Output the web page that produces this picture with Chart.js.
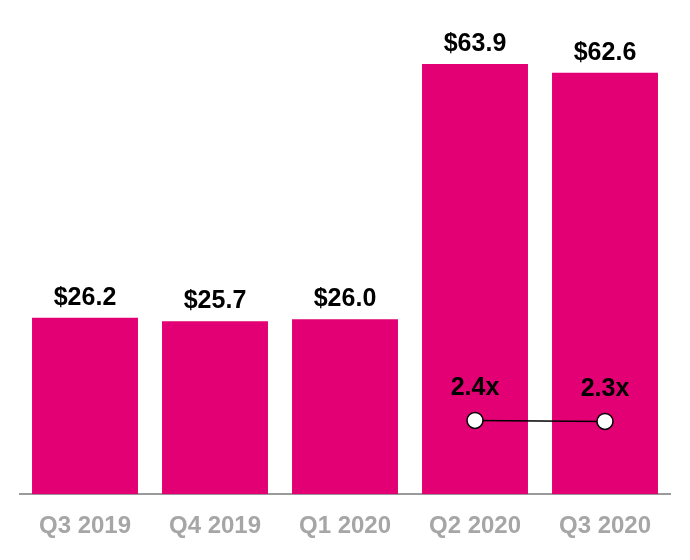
<!DOCTYPE html>
<html>
<head>
<meta charset="utf-8">
<script src="https://cdn.jsdelivr.net/npm/chart.js@4.4.0/dist/chart.umd.min.js"></script>
<style>
  html, body { margin: 0; padding: 0; background: #fff; }
  #wrap { width: 690px; height: 560px; }
</style>
</head>
<body>
<div id="wrap"><canvas id="chart"></canvas></div>
<script>
const quarters = ['Q3 2019', 'Q4 2019', 'Q1 2020', 'Q2 2020', 'Q3 2020'];
const revenue = [26.2, 25.7, 26.0, 63.9, 62.6];
const multiple = [null, null, null, 2.4, 2.3];

const magenta = '#E20074';

// labels above bars and above line points
const valueLabels = {
    id: 'valueLabels',
    afterDatasetsDraw(chart) {
        const ctx = chart.ctx;
        ctx.save();
        ctx.fillStyle = '#000';
        ctx.font = 'bold 25px "Liberation Sans", Arial, sans-serif';
        ctx.textAlign = 'center';
        ctx.textBaseline = 'alphabetic';

        // bars are dataset 1
        chart.getDatasetMeta(1).data.forEach((bar, i) => {
            ctx.fillText('$' + revenue[i].toFixed(1), bar.x, bar.y - 13);
        });

        // line is dataset 0
        chart.getDatasetMeta(0).data.forEach((pt, i) => {
            if (multiple[i] == null) return;
            ctx.fillText(multiple[i].toFixed(1) + 'x', pt.x, pt.y - 25);
        });
        ctx.restore();
    }
};

new Chart(document.getElementById('chart'), {
    data: {
        labels: quarters,
        datasets: [
            {
                type: 'line',
                data: multiple,
                yAxisID: 'y2',
                borderColor: '#000',
                borderWidth: 1.5,
                pointRadius: 8,
                pointBackgroundColor: '#fff',
                pointBorderColor: '#000',
                pointBorderWidth: 1.5,
                order: 0
            },
            {
                type: 'bar',
                data: revenue,
                yAxisID: 'y',
                backgroundColor: magenta,
                barPercentage: 0.815,
                categoryPercentage: 1,
                order: 1
            }
        ]
    },
    options: {
        responsive: true,
        maintainAspectRatio: false,
        animation: false,
        layout: { padding: { left: 20, right: 20, top: 0, bottom: 1 } },
        plugins: {
            legend: { display: false },
            tooltip: { enabled: false }
        },
        scales: {
            x: {
                grid: { display: false, drawTicks: false },
                border: { display: true, color: '#9a9a9a', width: 2 },
                ticks: {
                    color: '#A6A6A6',
                    font: { family: '"Liberation Sans", Arial, sans-serif', size: 24, weight: 'bold' },
                    padding: 18
                }
            },
            y: {
                display: false,
                min: 0,
                max: 72
            },
            y2: {
                display: false,
                min: -5,
                max: 43.6
            }
        }
    },
    plugins: [valueLabels]
});
</script>
</body>
</html>
